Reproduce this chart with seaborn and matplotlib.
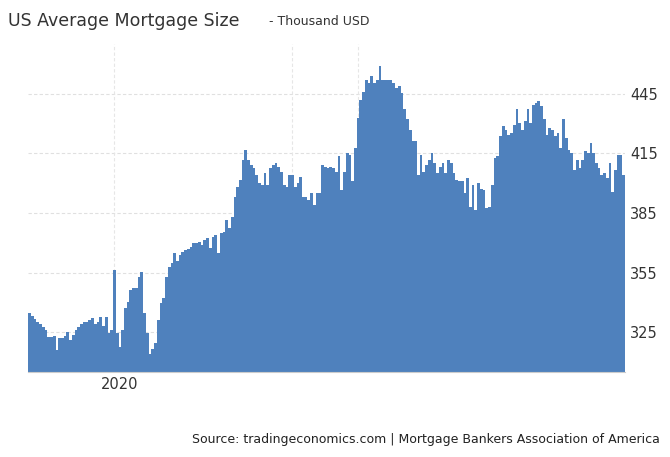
import numpy as np
import matplotlib
matplotlib.use("Agg")
import matplotlib.pyplot as plt
import seaborn as sns
import pandas as pd

# valores semanales (miles de USD)
tramo_1 = [334.5, 333, 331.5, 330, 329, 327.7, 326, 322.7, 322.7, 323, 316, 321.9, 322, 323, 325.2, 321,
           323.5, 326, 327.7, 329, 330.3, 330.3, 331, 332, 329, 330.3, 332.8, 328, 332.8, 324.4, 326, 356.3,
           324.4, 317.7, 326, 337, 340.3, 346.2, 347, 347, 353, 355.5, 334.5, 324.4, 314.3, 316.8, 319.4,
           331, 339.5, 342, 353, 358, 359.7, 364.7, 361, 364, 365.5, 366.4, 367, 368, 369.7, 370, 370.6,
           369, 371.4, 372.3, 367.2, 373, 374, 364.7, 374.8, 375.6, 381.5, 377.3]
tramo_2 = [383, 393, 398, 401.6, 411.7, 416.8, 411.7, 409, 407.5, 404, 400, 399, 405, 399, 407.5, 409, 410,
           408, 405.8, 399, 398, 404, 404, 398, 400, 403, 393, 393, 391.5, 395, 389, 395, 395, 409, 408,
           407.5, 408, 407.5, 405.8, 413.4, 396.6, 405.8, 415, 414, 400.8, 417.6, 432.7, 442, 446, 452,
           450.3, 453.7, 450.3, 452, 459, 452, 452, 452, 452, 450.3, 447.8, 448.7, 445.3, 437, 432, 426.8,
           421, 421]
tramo_3 = [404, 414, 405.8, 409, 411.7, 415, 410, 405, 408.3, 410, 405, 411.7, 410, 405, 401.6, 400.8, 400.8,
           395, 402.5, 388, 399, 386.5, 400, 397, 396.6, 387.3, 388, 399, 412.5, 413.4, 423.5, 428.5, 426.8,
           424.3, 425.2, 429.3, 437, 430, 426.8, 431, 437, 430, 439.4, 440.3, 441.1, 438.6, 432, 424.3,
           427.7, 426.8, 423.5, 425.2, 417.6, 432, 422.6, 416.8, 415, 406.7, 411.7, 407.5, 411.7, 416, 415,
           420, 415, 410, 407.5, 404, 405, 402.5, 410, 395.7, 406.7, 414, 414, 404]
valores = tramo_1 + tramo_2 + tramo_3
yticks = [325, 355, 385, 415, 445]
xtick_pos = [33]
xtick_labels = ["2020"]
xgrid_pos = [31, 96, 120]

df = pd.DataFrame({"semana": np.arange(len(valores)), "valor": valores})
n = len(valores)

fig = plt.figure(figsize=(6.70, 4.57), dpi=100)
ax = fig.add_axes([0.042, 0.186, 0.891, 0.718])
sns.barplot(data=df, x="semana", y="valor", color="#4f81bd", width=1.0, saturation=1,
            linewidth=0, native_scale=True, ax=ax, zorder=2)
ax.set_xlim(-0.5, n - 0.5)
ax.set_ylim(305, 470)
ax.yaxis.tick_right()
ax.set_yticks(yticks)
ax.set_xticks(xtick_pos)
ax.set_xticklabels(xtick_labels)
ax.tick_params(length=0, labelsize=10.5, colors="#333333")
for xg in xgrid_pos:
    ax.axvline(xg, color="#e6e6e6", lw=0.8, ls=(0, (3, 2)), zorder=1)
ax.grid(axis="y", color="#e0e0e0", lw=0.8, ls=(0, (3, 2)), zorder=1)
ax.set_axisbelow(True)
ax.set_xlabel("")
ax.set_ylabel("")
for s in ["top", "left", "right"]:
    ax.spines[s].set_visible(False)
ax.spines["bottom"].set_color("#cccccc")

fig.text(0.012, 0.955, "US Average Mortgage Size", fontsize=12.5, color="#333333", va="center")
fig.text(0.402, 0.953, "- Thousand USD", fontsize=9, color="#333333", va="center")
fig.text(0.985, 0.03, "Source: tradingeconomics.com | Mortgage Bankers Association of America",
         fontsize=9, color="#222222", ha="right")
fig.savefig("out.png", dpi=100)
